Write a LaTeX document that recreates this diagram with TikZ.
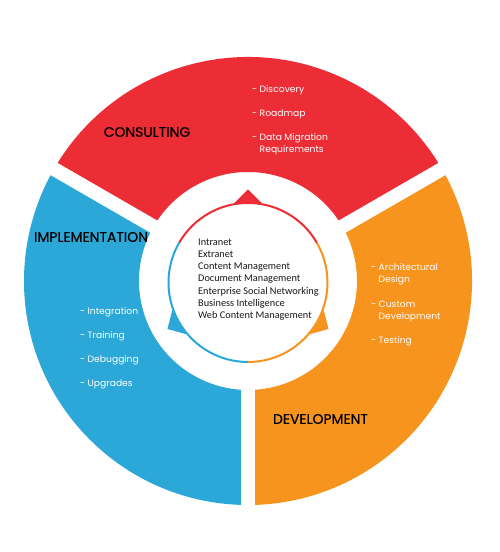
\documentclass[tikz,border=0pt]{standalone}
\usepackage{fontspec}
\setmainfont{Poppins}
\newfontfamily\headfont{Poppins}[FakeBold=0.6]
\newfontfamily\listfont{Carlito}
\definecolor{cred}{RGB}{236,45,54}
\definecolor{cblue}{RGB}{43,168,215}
\definecolor{corange}{RGB}{247,148,30}
\begin{document}
\begin{tikzpicture}[x=1pt,y=1pt,
  head/.style={font=\headfont\fontsize{13.9}{15}\selectfont, text=black, inner sep=0},
  item/.style={font=\fontsize{9.2}{12}\selectfont, text=white, anchor=base west, inner sep=0, align=left},
  listitem/.style={font=\listfont\fontsize{10.3}{12}\selectfont, text=black!90, anchor=base west, inner sep=0},
  gap/.style={white, line width=14pt},
  ring/.style={line width=2pt}
]
\useasboundingbox[fill=white] (-248,-271) rectangle (252,281);
\def\Ro{224}\def\Ri{109}
% outer ring sectors
\fill[cred] (30:\Ri) arc[start angle=30,end angle=150,radius=\Ri] -- (150:\Ro) arc[start angle=150,end angle=30,radius=\Ro] -- cycle;
\fill[cblue] (150:\Ri) arc[start angle=150,end angle=270,radius=\Ri] -- (270:\Ro) arc[start angle=270,end angle=150,radius=\Ro] -- cycle;
\fill[corange] (270:\Ri) arc[start angle=270,end angle=390,radius=\Ri] -- (390:\Ro) arc[start angle=390,end angle=270,radius=\Ro] -- cycle;
% white gaps
\draw[gap] (30:100) -- (30:232);
\draw[gap] (150:100) -- (150:232);
\draw[gap] (270:100) -- (270:232);
% inner circle with arrows
\begin{scope}[shift={(0,-1.5)}]
  \fill[cred] (90:93) -- (80:80.5) -- (100:80.5) -- cycle;
  \fill[cblue] (210:93) -- (200:80.5) -- (220:80.5) -- cycle;
  \fill[corange] (330:93) -- (320:80.5) -- (340:80.5) -- cycle;
  \draw[ring, cred] (30:79.5) arc[start angle=30,end angle=150,radius=79.5];
  \draw[ring, cblue] (150:79.5) arc[start angle=150,end angle=270,radius=79.5];
  \draw[ring, corange] (270:79.5) arc[start angle=270,end angle=390,radius=79.5];
\end{scope}
% headings
\node[head] (consulting) at (-101,149) {CONSULTING};
\node[head] (implementation) at (-157,44) {IMPLEMENTATION};
\node[head] (development) at (72.5,-138) {DEVELOPMENT};
% consulting items
\node[item] (c1) at (4,188.5) {-\ Discovery};
\node[item] (c2) at (4,164.5) {-\ Roadmap};
\node[item] (c3) at (4,128.5) {-\ Data Migration\\\phantom{-\ }Requirements};
% implementation items
\node[item] (i1) at (-168,-33.5) {-\ Integration};
\node[item] (i2) at (-168,-57.5) {-\ Training};
\node[item] (i3) at (-168,-81.5) {-\ Debugging};
\node[item] (i4) at (-168,-105.5) {-\ Upgrades};
% development items
\node[item] (d1) at (123,-1.5) {-\ Architectural\\\phantom{-\ }Design};
\node[item] (d2) at (123,-38.5) {-\ Custom\\\phantom{-\ }Development};
\node[item] (d3) at (123,-62.5) {-\ Testing};
% centre list
\foreach \t [count=\i] in {Intranet,Extranet,Content Management,Document Management,Enterprise Social Networking,Business Intelligence,Web Content Management}
  \node[listitem] (l\i) at (-50,{35.5-12.15*(\i-1)}) {\t};
\end{tikzpicture}
\end{document}
